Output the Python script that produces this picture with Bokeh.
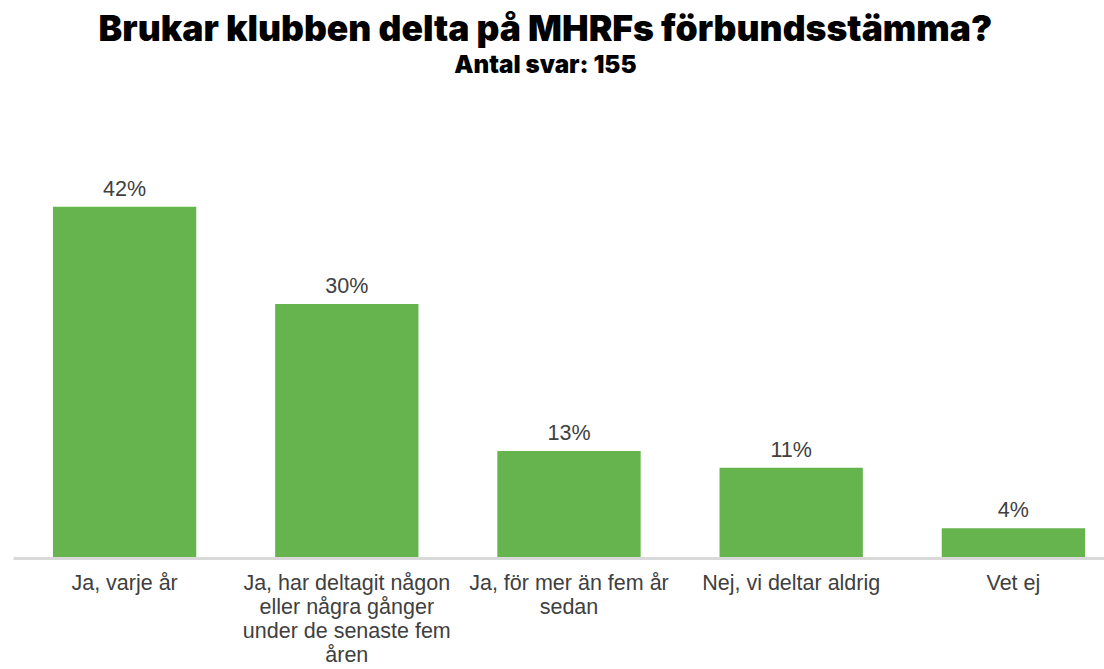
from bokeh.plotting import figure
from bokeh.models import Range1d, Label, ColumnDataSource, FixedTicker
from bokeh.embed import file_html
from bokeh.resources import INLINE
from bokeh.core.properties import value

# ---- data ----
categories = [
    "Ja, varje år",
    "Ja, har deltagit någon eller några gånger under de senaste fem åren",
    "Ja, för mer än fem år sedan",
    "Nej, vi deltar aldrig",
    "Vet ej",
]
tick_labels = [
    "Ja, varje år",
    "Ja, har deltagit någon\neller några gånger\nunder de senaste fem\nåren",
    "Ja, för mer än fem år\nsedan",
    "Nej, vi deltar aldrig",
    "Vet ej",
]
values = [41.9, 30.3, 12.8, 10.8, 3.6]
value_labels = ["42%", "30%", "13%", "11%", "4%"]

title_text = "Brukar klubben delta på MHRFs förbundsstämma?"
subtitle_text = "Antal svar: 155"

GREEN = "#65B44E"
TEXT = "#404040"

xs = list(range(len(categories)))
src = ColumnDataSource(dict(x=xs, v=values, lab=value_labels, cat=categories))

# frame spans the full height above the axis; titles sit in its empty top part
Y_END = 66.46
p = figure(
    width=1104, height=669,
    x_range=Range1d(-0.5, 4.41), y_range=Range1d(0, Y_END),
    output_backend="svg", toolbar_location=None,
    min_border_left=13, min_border_right=0, min_border_top=0, min_border_bottom=0,
)

p.vbar(x="x", top="v", width=0.645, source=src, fill_color=GREEN, line_color=None)
p.text(x="x", y="v", text="lab", source=src, y_offset=-6,
       text_align="center", text_baseline="bottom",
       text_font=value("Liberation Sans"), text_font_size="21.5px", text_color=TEXT)

p.add_layout(Label(x=1.894, y=63.1, text=title_text, text_align="center",
                   text_baseline="alphabetic",
                   text_font="'Inter Black', Inter", text_font_style="bold",
                   text_font_size="35.5px", text_color="black"))
p.add_layout(Label(x=1.894, y=58.85, text=subtitle_text, text_align="center",
                   text_baseline="alphabetic",
                   text_font="'Inter Black', Inter", text_font_style="bold",
                   text_font_size="24.2px", text_color="black"))

p.yaxis.visible = False
p.xgrid.visible = False
p.ygrid.visible = False
p.outline_line_color = None

ax = p.xaxis[0]
ax.ticker = FixedTicker(ticks=xs)
ax.major_label_overrides = {i: t for i, t in zip(xs, tick_labels)}
ax.axis_line_color = "#d9d9d9"
ax.axis_line_width = 3
ax.major_tick_line_color = None
ax.minor_tick_line_color = None
ax.major_tick_out = 0
ax.major_tick_in = 0
ax.major_label_standoff = 12
ax.major_label_text_font = "Liberation Sans"
ax.major_label_text_font_size = "21.5px"
ax.major_label_text_line_height = 1.0
ax.major_label_text_color = TEXT

open("out.html", "w").write(file_html(p, INLINE))
